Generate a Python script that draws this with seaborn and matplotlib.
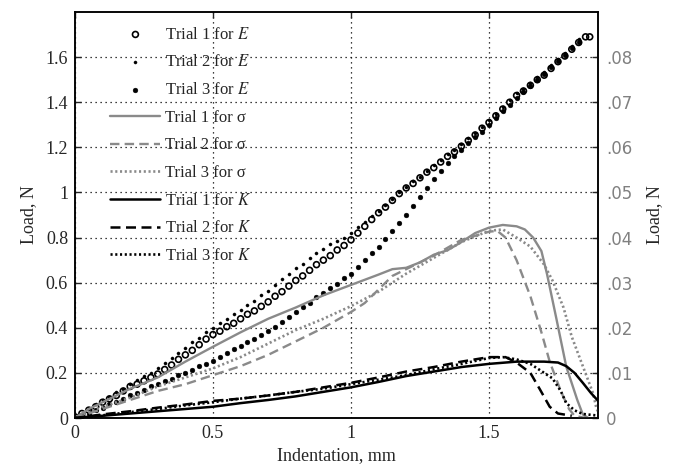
import numpy as np
import pandas as pd
import matplotlib
matplotlib.use('Agg')
import matplotlib.pyplot as plt
import seaborn as sns

# Indentation positions (mm) for the E trials (markers)
x_E = [0.0, 0.025, 0.05, 0.075, 0.1, 0.125, 0.15, 0.175, 0.2, 0.225, 0.25, 0.275,
       0.3, 0.325, 0.35, 0.375, 0.4, 0.425, 0.45, 0.475, 0.5, 0.525, 0.55, 0.575,
       0.6, 0.625, 0.65, 0.675, 0.7, 0.725, 0.75, 0.775, 0.8, 0.825, 0.85, 0.875,
       0.9, 0.925, 0.95, 0.975, 1.0, 1.025, 1.05, 1.075, 1.1, 1.125, 1.15, 1.175,
       1.2, 1.225, 1.25, 1.275, 1.3, 1.325, 1.35, 1.375, 1.4, 1.425, 1.45, 1.475,
       1.5, 1.525, 1.55, 1.575, 1.6, 1.625, 1.65, 1.675, 1.7, 1.725, 1.75, 1.775,
       1.8, 1.825, 1.85, 1.865]

# Load (N), left axis
E_trial1 = [0.005, 0.02, 0.035, 0.05, 0.07, 0.085, 0.10, 0.12, 0.14, 0.15, 0.165, 0.18,
            0.195, 0.215, 0.235, 0.26, 0.28, 0.30, 0.325, 0.35, 0.37, 0.385, 0.405, 0.42,
            0.44, 0.46, 0.475, 0.495, 0.515, 0.54, 0.56, 0.585, 0.61, 0.63, 0.655, 0.68,
            0.70, 0.72, 0.745, 0.765, 0.79, 0.82, 0.85, 0.88, 0.91, 0.935, 0.965, 0.995,
            1.02, 1.04, 1.065, 1.09, 1.11, 1.135, 1.16, 1.18, 1.205, 1.23, 1.255, 1.285,
            1.31, 1.34, 1.37, 1.40, 1.43, 1.45, 1.475, 1.50, 1.52, 1.55, 1.58, 1.605,
            1.635, 1.665, 1.69, 1.69]
E_trial2 = [0.0, 0.02, 0.04, 0.06, 0.08, 0.095, 0.115, 0.13, 0.15, 0.17, 0.185, 0.20,
            0.22, 0.245, 0.265, 0.29, 0.31, 0.335, 0.355, 0.38, 0.40, 0.42, 0.44, 0.46,
            0.48, 0.50, 0.52, 0.545, 0.565, 0.59, 0.615, 0.64, 0.665, 0.685, 0.71, 0.73,
            0.75, 0.77, 0.785, 0.80, 0.82, 0.845, 0.87, 0.895, 0.92, 0.945, 0.97, 1.0,
            1.025, 1.05, 1.07, 1.095, 1.12, 1.145, 1.17, 1.19, 1.215, 1.24, 1.265, 1.29,
            1.32, 1.35, 1.38, 1.41, 1.44, 1.46, 1.485, 1.51, 1.535, 1.565, 1.59, 1.62,
            1.65, 1.68]
E_trial3 = [0.0, 0.01, 0.02, 0.035, 0.045, 0.06, 0.07, 0.085, 0.10, 0.11, 0.125, 0.14,
            0.15, 0.165, 0.175, 0.19, 0.20, 0.215, 0.23, 0.24, 0.255, 0.27, 0.29, 0.305,
            0.32, 0.335, 0.35, 0.37, 0.385, 0.405, 0.425, 0.45, 0.47, 0.49, 0.51, 0.535,
            0.555, 0.575, 0.595, 0.62, 0.64, 0.67, 0.70, 0.73, 0.76, 0.795, 0.83, 0.865,
            0.90, 0.94, 0.98, 1.02, 1.06, 1.095, 1.13, 1.16, 1.19, 1.22, 1.245, 1.27,
            1.30, 1.33, 1.36, 1.39, 1.42, 1.445, 1.47, 1.50, 1.525, 1.555, 1.585, 1.61,
            1.64, 1.665]

# Load (N), right axis: sigma trials
x_s1 = [0, 0.05, 0.1, 0.2, 0.3, 0.4, 0.5, 0.6, 0.7, 0.8, 0.9, 1.0, 1.1, 1.15, 1.2, 1.25,
        1.3, 1.35, 1.4, 1.45, 1.5, 1.55, 1.6, 1.63, 1.66, 1.69, 1.71, 1.745, 1.78, 1.82,
        1.84, 1.86]
s_trial1 = [0, 0.002, 0.0035, 0.0065, 0.009, 0.0125, 0.0158, 0.019, 0.022, 0.0245,
            0.0272, 0.0295, 0.0318, 0.033, 0.0333, 0.0345, 0.0362, 0.0372, 0.039, 0.041,
            0.0422, 0.0428, 0.0425, 0.0418, 0.040, 0.037, 0.032, 0.0218, 0.0114, 0.004,
            0.0008, 0.0]
x_s2 = [0, 0.1, 0.2, 0.3, 0.4, 0.5, 0.6, 0.7, 0.8, 0.9, 1.0, 1.05, 1.1, 1.15, 1.2, 1.3,
        1.4, 1.5, 1.53, 1.56, 1.6, 1.65, 1.69, 1.72, 1.76, 1.79, 1.81, 1.85]
s_trial2 = [0, 0.002, 0.004, 0.006, 0.0075, 0.0095, 0.0115, 0.014, 0.017, 0.020, 0.0235,
            0.0255, 0.0285, 0.0315, 0.033, 0.036, 0.0395, 0.0413, 0.0415, 0.040, 0.035,
            0.027, 0.019, 0.0125, 0.006, 0.002, 0.0005, 0.0]
x_s3 = [0, 0.1, 0.2, 0.3, 0.4, 0.5, 0.6, 0.7, 0.8, 0.9, 1.0, 1.1, 1.15, 1.2, 1.3, 1.4,
        1.5, 1.55, 1.6, 1.65, 1.7, 1.73, 1.77, 1.8, 1.84, 1.877, 1.89, 1.9]
s_trial3 = [0, 0.0025, 0.0045, 0.007, 0.009, 0.011, 0.0135, 0.0165, 0.0195, 0.022,
            0.0248, 0.028, 0.030, 0.032, 0.0355, 0.039, 0.0415, 0.0418, 0.040, 0.038,
            0.034, 0.0305, 0.0245, 0.018, 0.0115, 0.0055, 0.002, 0.001]

# Load (N), right axis: K trials
x_k1 = [0, 0.1, 0.2, 0.3, 0.4, 0.5, 0.6, 0.7, 0.8, 0.9, 1.0, 1.1, 1.2, 1.3, 1.4, 1.5,
        1.6, 1.7, 1.75, 1.78, 1.81, 1.84, 1.87, 1.9]
k_trial1 = [0, 0.0005, 0.001, 0.0015, 0.002, 0.0025, 0.0033, 0.004, 0.0048, 0.0058,
            0.0068, 0.008, 0.0093, 0.0103, 0.0113, 0.012, 0.0125, 0.0125, 0.0123,
            0.0115, 0.010, 0.0078, 0.0055, 0.0035]
x_k2 = [0, 0.1, 0.2, 0.3, 0.4, 0.5, 0.6, 0.7, 0.8, 0.9, 1.0, 1.1, 1.2, 1.3, 1.4, 1.5,
        1.56, 1.6, 1.65, 1.685, 1.72, 1.75, 1.8]
k_trial2 = [0, 0.0008, 0.0015, 0.0023, 0.003, 0.0038, 0.0043, 0.005, 0.0058, 0.0068,
            0.0078, 0.009, 0.0103, 0.0113, 0.0125, 0.0135, 0.0135, 0.0123, 0.010,
            0.0063, 0.0025, 0.001, 0.0005]
x_k3 = [0, 0.1, 0.2, 0.3, 0.4, 0.5, 0.6, 0.7, 0.8, 0.9, 1.0, 1.1, 1.2, 1.3, 1.4, 1.5,
        1.55, 1.6, 1.65, 1.7, 1.73, 1.76, 1.78, 1.81, 1.84, 1.9]
k_trial3 = [0, 0.0006, 0.0013, 0.002, 0.0028, 0.0035, 0.0043, 0.005, 0.0058, 0.0065,
            0.0075, 0.0085, 0.0095, 0.0108, 0.012, 0.0133, 0.0135, 0.013, 0.012, 0.010,
            0.0088, 0.006, 0.0033, 0.0017, 0.0009, 0.0005]

x_ticks = [0, 0.5, 1, 1.5]
x_ticklabels = ['0', '0.5', '1', '1.5']
left_ticks = [0, 0.2, 0.4, 0.6, 0.8, 1.0, 1.2, 1.4, 1.6]
left_ticklabels = ['0', '0.2', '0.4', '0.6', '0.8', '1', '1.2', '1.4', '1.6']
right_ticks = [0, 0.01, 0.02, 0.03, 0.04, 0.05, 0.06, 0.07, 0.08]
right_ticklabels = ['0', '.01', '.02', '.03', '.04', '.05', '.06', '.07', '.08']

sns.set_theme(style='white')
plt.rcParams['font.family'] = ['Liberation Serif', 'DejaVu Serif']
plt.rcParams['mathtext.fontset'] = 'stix'
plt.rcParams['xtick.direction'] = 'in'
plt.rcParams['ytick.direction'] = 'in'

gray = '#8a8a8a'

fig = plt.figure(figsize=(6.78, 4.70), dpi=100)
ax = fig.add_axes([0.1106, 0.1106, 0.7714, 0.8638])
ax2 = ax.twinx()

# E trials (markers, left axis)
sns.scatterplot(x=x_E, y=E_trial1, ax=ax, marker='o', s=18, facecolor='none',
                edgecolor='black', linewidth=1.2, label='Trial 1 for $E$', zorder=3)
sns.scatterplot(x=x_E[:len(E_trial2)], y=E_trial2, ax=ax, marker='o', s=5, color='black',
                edgecolor='black', linewidth=0.3, label='Trial 2 for $E$', zorder=3)
sns.scatterplot(x=x_E[:len(E_trial3)], y=E_trial3, ax=ax, marker='o', s=12, color='black',
                edgecolor='black', linewidth=0.3, label='Trial 3 for $E$', zorder=3)

# sigma and K trials (lines, right axis)
sns.lineplot(x=x_s1, y=s_trial1, ax=ax2, color=gray, linewidth=1.7, sort=False,
             label='Trial 1 for σ')
sns.lineplot(x=x_s2, y=s_trial2, ax=ax2, color=gray, linewidth=1.7, sort=False,
             linestyle=(0, (4.0, 2.2)), label='Trial 2 for σ')
sns.lineplot(x=x_s3, y=s_trial3, ax=ax2, color=gray, linewidth=1.9, sort=False,
             linestyle=(0, (0.8, 1.0)), label='Trial 3 for σ')
sns.lineplot(x=x_k1, y=k_trial1, ax=ax2, color='black', linewidth=1.8, sort=False,
             label='Trial 1 for $K$')
sns.lineplot(x=x_k2, y=k_trial2, ax=ax2, color='black', linewidth=1.8, sort=False,
             linestyle=(0, (4.0, 2.2)), label='Trial 2 for $K$')
sns.lineplot(x=x_k3, y=k_trial3, ax=ax2, color='black', linewidth=1.9, sort=False,
             linestyle=(0, (0.8, 1.0)), label='Trial 3 for $K$')

ax.set_xlim(0, 1.895)
ax.set_ylim(0, 1.8)
ax2.set_ylim(0, 0.09)

ax.set_xticks(x_ticks)
ax.set_xticklabels(x_ticklabels, fontsize=13)
ax.set_yticks(left_ticks)
ax.set_yticklabels(left_ticklabels, fontsize=13)
ax2.set_yticks(right_ticks)
ax2.set_yticklabels(right_ticklabels, fontsize=12, color='#808080', family='DejaVu Sans')

ax.tick_params(axis='both', which='both', direction='in', length=4, width=1,
               top=True, right=False, pad=5)
ax2.tick_params(axis='y', direction='in', length=4, width=1, pad=6)

ax.grid(True, linestyle=(0, (1, 3)), color='black', linewidth=0.9)
for a in (ax, ax2):
    for sp in a.spines.values():
        sp.set_color('black')
        sp.set_linewidth(1.1)

ax.set_xlabel('Indentation, mm', fontsize=13, labelpad=4)
ax.set_ylabel('Load, N', fontsize=13, labelpad=6)
ax2.set_ylabel('Load, N', fontsize=13, labelpad=10)

h1, l1 = ax.get_legend_handles_labels()
h2, l2 = ax2.get_legend_handles_labels()
if ax2.get_legend() is not None:
    ax2.get_legend().remove()
leg = ax.legend(h1 + h2, l1 + l2, loc='upper left', bbox_to_anchor=(0.055, 0.98),
                frameon=False, fontsize=12, handlelength=3.0, handletextpad=0.3,
                labelspacing=0.7, scatterpoints=1, borderaxespad=0)
leg.set_zorder(5)

fig.savefig('out.png', dpi=100)
